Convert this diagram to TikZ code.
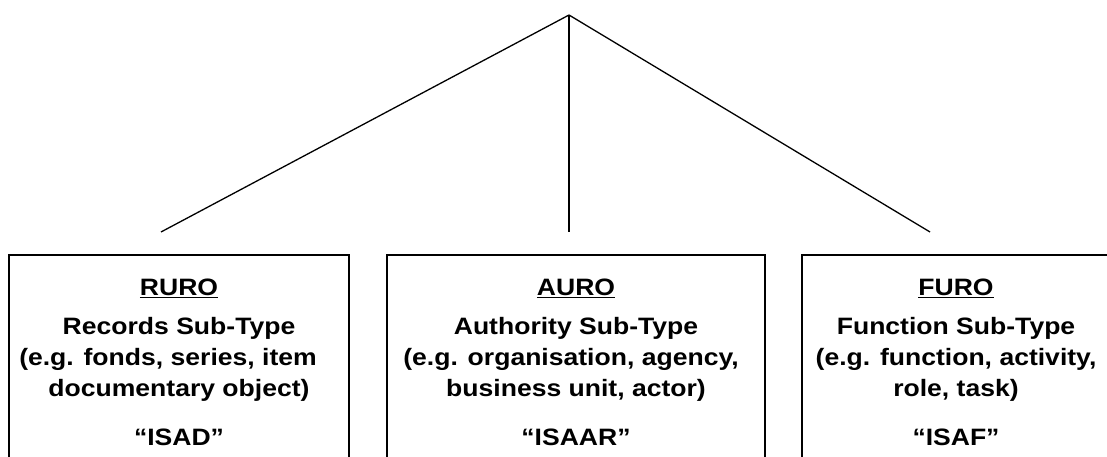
\documentclass[tikz,border=0pt]{standalone}
\usepackage{fontspec}
\setmainfont[FakeStretch=1.12]{Liberation Sans}
\usetikzlibrary{positioning}
\begin{document}
\begin{tikzpicture}
  [x=1pt,y=-1pt,
   box/.style={draw,line width=2pt,minimum width=#1,minimum height=260pt,
     anchor=north west,inner sep=0pt,outer sep=0pt},
   txt/.style={align=center,inner sep=0pt,
     font=\bfseries\fontsize{23.7}{31}\selectfont},
   link/.style={line width=1.3pt}]
  \useasboundingbox (0,0) rectangle (1107,457);
  \clip (0,0) rectangle (1107,457);
  \coordinate (top) at (569,15);
  \coordinate (el) at (161,232);
  \coordinate (em) at (569,232);
  \coordinate (er) at (930,232);
  \node[box=340pt] (ruro) at (9,255) {};
  \node[box=378pt] (auro) at (387,255) {};
  \node[box=308pt] (furo) at (802,255) {};

  \node[txt,below=24pt of ruro.north] (rurotxt)
    {\underline{RURO}\\[8pt] Records Sub-Type\\ (e.g. fonds, series, item\rule{22pt}{0pt}\\
     documentary object)\\[18pt] “ISAD”};
  \node[txt,below=24pt of auro.north] (aurotxt)
    {\underline{AURO}\\[8pt] Authority Sub-Type\\ (e.g. organisation, agency,\rule{10pt}{0pt}\\
     business unit, actor)\\[18pt] “ISAAR”};
  \node[txt,below=24pt of furo.north] (furotxt)
    {\underline{FURO}\\[8pt] Function Sub-Type\\ (e.g. function, activity,\\
     role, task)\\[18pt] “ISAF”};

  \foreach \to in {el,em,er}
    \draw[link] (top) -- (\to);
\end{tikzpicture}
\end{document}
